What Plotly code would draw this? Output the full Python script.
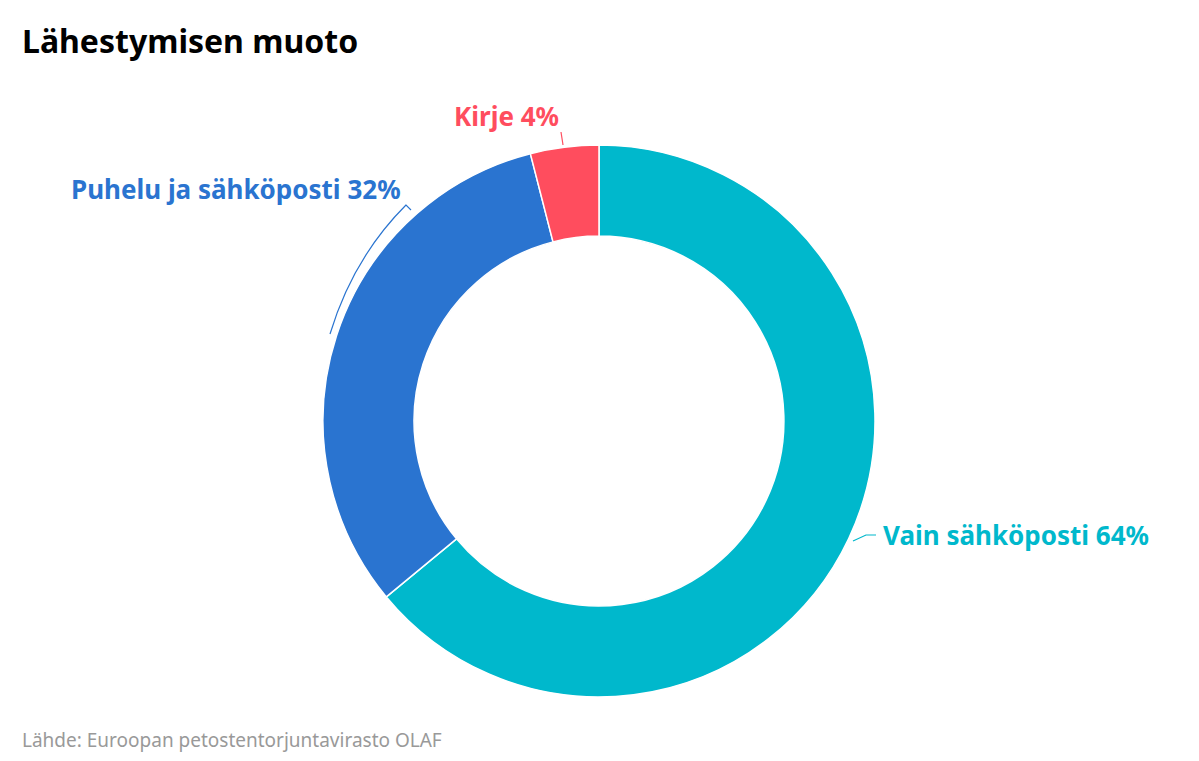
import plotly.graph_objects as go

labels = ["Vain sähköposti", "Puhelu ja sähköposti", "Kirje"]
values = [64, 32, 4]
colors = ["#00B8CC", "#2A74D0", "#FF4D5E"]

fig = go.Figure(go.Pie(
    labels=labels, values=values, hole=0.67, sort=False, direction="clockwise",
    rotation=0, textinfo="none", hoverinfo="label+percent",
    marker=dict(colors=colors, line=dict(color="white", width=1.5)),
    domain=dict(x=[(591 - 276) / 1199, (591 + 276) / 1199], y=[1 - 689 / 761, 1 - 137 / 761]),
    showlegend=False,
))

# label positions (paper coords) and leader-line tips
label_pos = [(873 / 1199, 1 - 527 / 761, "left"), (395 / 1199, 1 - 181 / 761, "right"), (553 / 1199, 1 - 108 / 761, "right")]
for (x, y, anchor), lab, v, c in zip(label_pos, labels, values, colors):
    fig.add_annotation(x=x, y=y, xref="paper", yref="paper", xanchor=anchor, yanchor="middle",
                       text=f"<b>{lab} {v}%</b>", showarrow=False,
                       font=dict(family="Noto Sans", size=26, color=c))

# leader lines
fig.add_shape(type="path", xref="paper", yref="paper",
              path=f"M {845/1199} {1-533/761} L {858/1199} {1-527/761} L {868/1199} {1-527/761}",
              line=dict(color=colors[0], width=1.2))
fig.add_shape(type="path", xref="paper", yref="paper",
              path=f"M {322/1199} {1-326/761} Q {345/1199} {1-250/761} {398/1199} {1-197/761} L {403/1199} {1-202/761}",
              line=dict(color=colors[1], width=1.2))
fig.add_shape(type="path", xref="paper", yref="paper",
              path=f"M {555/1199} {1-137/761} L {553/1199} {1-124/761}",
              line=dict(color=colors[2], width=1.2))

fig.add_annotation(x=12 / 1199, y=1 - 33 / 761, xref="paper", yref="paper", xanchor="left", yanchor="middle",
                   text="<b>Lähestymisen muoto</b>", showarrow=False,
                   font=dict(family="Noto Sans", size=32, color="black"))
fig.add_annotation(x=12 / 1199, y=1 - 732 / 761, xref="paper", yref="paper", xanchor="left", yanchor="middle",
                   text="Lähde: Euroopan petostentorjuntavirasto OLAF", showarrow=False,
                   font=dict(family="Noto Sans", size=19, color="#999999"))

fig.update_layout(width=1199, height=761, margin=dict(l=0, r=0, t=0, b=0),
                  paper_bgcolor="white", plot_bgcolor="white")
fig.write_html("out.html")
